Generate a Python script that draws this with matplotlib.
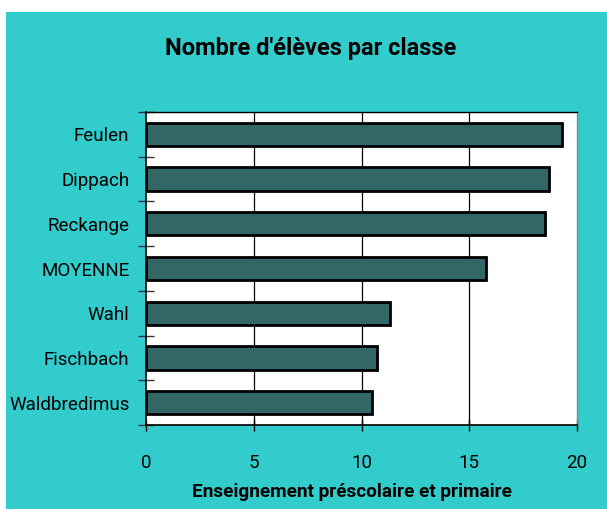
import matplotlib
matplotlib.use("Agg")
import matplotlib.pyplot as plt
from matplotlib.patches import Rectangle
from matplotlib.ticker import FixedLocator, NullFormatter, FixedFormatter
from matplotlib import font_manager

categories = ["Feulen", "Dippach", "Reckange", "MOYENNE", "Wahl", "Fischbach", "Waldbredimus"]
values = [19.3, 18.7, 18.5, 15.8, 11.3, 10.7, 10.5]
x_ticks = [0, 5, 10, 15, 20]
title = "Nombre d'élèves par classe"
xlabel = "Enseignement préscolaire et primaire"

names = {f.name for f in font_manager.fontManager.ttflist}
fam = "Liberation Sans Narrow" if "Liberation Sans Narrow" in names else "Roboto"
plt.rcParams["font.family"] = [fam, "DejaVu Sans"]

W, H = 607, 509
fig = plt.figure(figsize=(W / 100, H / 100), dpi=100, facecolor="white")
bg = Rectangle((6 / W, 0), 1 - 6 / W, 1 - 12 / H, transform=fig.transFigure,
               facecolor="#33CCCC", edgecolor="none", zorder=-10)
fig.patches.append(bg)

ax = fig.add_axes([146 / W, 1 - 425 / H, (577 - 146) / W, (425 - 112) / H])
ax.set_zorder(1)
ax.set_facecolor("white")
n = len(categories)
ypos = list(range(n - 1, -1, -1))
ax.barh(ypos, values, height=0.52, color="#336666", edgecolor="black", linewidth=2, zorder=3)
ax.set_xlim(0, 20)
ax.set_ylim(-0.5, n - 0.5)

for g in x_ticks[1:-1]:
    ax.axvline(g, color="black", linewidth=0.9, zorder=1)

ax.set_xticks(x_ticks)
ax.set_xticklabels([str(t) for t in x_ticks], fontsize=13.5)
ax.tick_params(axis="x", direction="inout", length=8, width=1, pad=17)

ax.yaxis.set_major_locator(FixedLocator([i - 0.5 for i in range(n + 1)]))
ax.yaxis.set_major_formatter(NullFormatter())
ax.yaxis.set_minor_locator(FixedLocator(ypos))
ax.yaxis.set_minor_formatter(FixedFormatter(categories))
ax.tick_params(axis="y", which="major", direction="inout", length=11, width=1, color="#333333")
ax.tick_params(axis="y", which="minor", length=0, labelsize=13.5, pad=12)

for s in ["top", "right"]:
    ax.spines[s].set_color("#888888")
    ax.spines[s].set_linewidth(1)
ax.spines["left"].set_linewidth(1.2)
ax.spines["bottom"].set_linewidth(1.2)
ax.spines["top"].set_color("black")

ax.set_xlabel(xlabel, fontsize=13.7, fontweight="bold", labelpad=8, x=0.478)
fig.text(311 / W, 1 - 48 / H, title, ha="center", va="center", fontsize=17, fontweight="bold")

fig.savefig("out.png", dpi=100, facecolor=fig.get_facecolor())
